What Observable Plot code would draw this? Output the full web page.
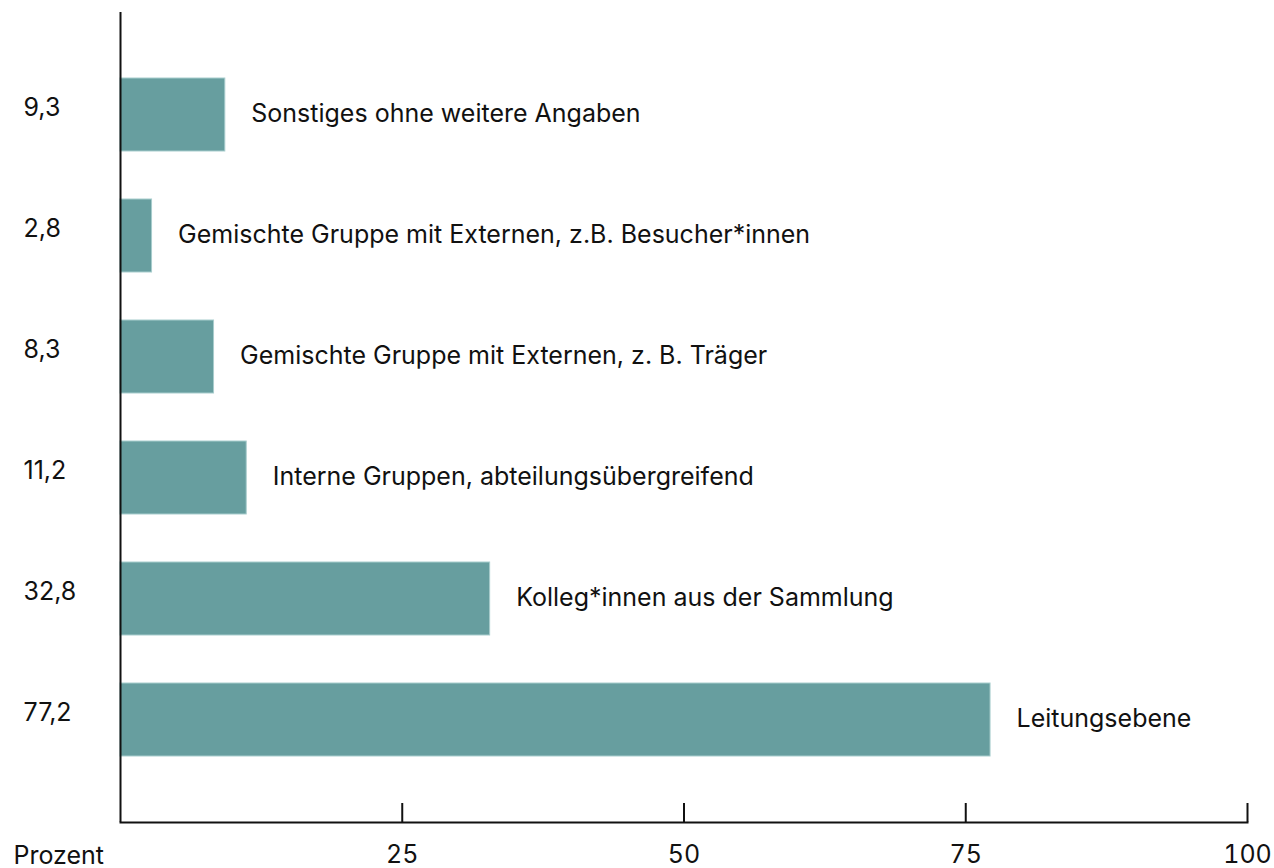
<!DOCTYPE html>
<html>
<head>
<meta charset="utf-8">
<script src="https://cdn.jsdelivr.net/npm/d3@7"></script>
<script src="https://cdn.jsdelivr.net/npm/@observablehq/plot@0.6"></script>
<style>
  html, body { margin: 0; padding: 0; background: #fff; }
  #chart svg { display: block; overflow: visible; }
</style>
</head>
<body>
<div id="chart"></div>
<script>
const categories = [
  "Sonstiges ohne weitere Angaben",
  "Gemischte Gruppe mit Externen, z.B. Besucher*innen",
  "Gemischte Gruppe mit Externen, z. B. Träger",
  "Interne Gruppen, abteilungsübergreifend",
  "Kolleg*innen aus der Sammlung",
  "Leitungsebene"
];
const values = [9.3, 2.8, 8.3, 11.2, 32.8, 77.2];
const valueLabels = ["9,3", "2,8", "8,3", "11,2", "32,8", "77,2"];
const xTicks = [25, 50, 75, 100];
const xAxisTitle = "Prozent";

const data = categories.map((c, i) => ({cat: c, value: values[i], label: valueLabels[i]}));

const font = "Inter, Roboto, 'Noto Sans', sans-serif";
const plot = Plot.plot({
  width: 1274,
  height: 868,
  marginLeft: 120,
  marginRight: 27,
  marginTop: 12,
  marginBottom: 46,
  style: {fontFamily: font, fontSize: "25px", color: "#111", background: "#fff"},
  x: {domain: [0, 100], axis: null},
  y: {domain: categories, paddingInner: 0.4, paddingOuter: 0.53, axis: null},
  marks: [
    Plot.barX(data, {x: "value", y: "cat", fill: "#679e9f", stroke: "#a8cdcd", strokeWidth: 1}),
    Plot.text(data, {x: "value", y: "cat", text: "cat", textAnchor: "start", dx: 26, dy: -1, fontSize: 25, fill: "#111"}),
    Plot.text(data, {y: "cat", text: "label", frameAnchor: "left", textAnchor: "start", dx: -97, dy: -7, fontSize: 25, fill: "#111"}),
    Plot.ruleX([0], {stroke: "#111", strokeWidth: 2}),
    Plot.frame({anchor: "bottom", stroke: "#111", strokeWidth: 2}),
    Plot.ruleX(xTicks, {stroke: "#111", strokeWidth: 2, insetTop: 791}),
    Plot.axisX(xTicks, {tickSize: 0, tickPadding: 23, fontSize: 25, label: null, tickFormat: d => String(d), fill: "#111"}),
    Plot.text([xAxisTitle], {frameAnchor: "bottom-left", textAnchor: "start", lineAnchor: "bottom", dx: -107, dy: 41, fontSize: 25, fill: "#111"})
  ]
});
document.getElementById("chart").appendChild(plot);
</script>
</body>
</html>
